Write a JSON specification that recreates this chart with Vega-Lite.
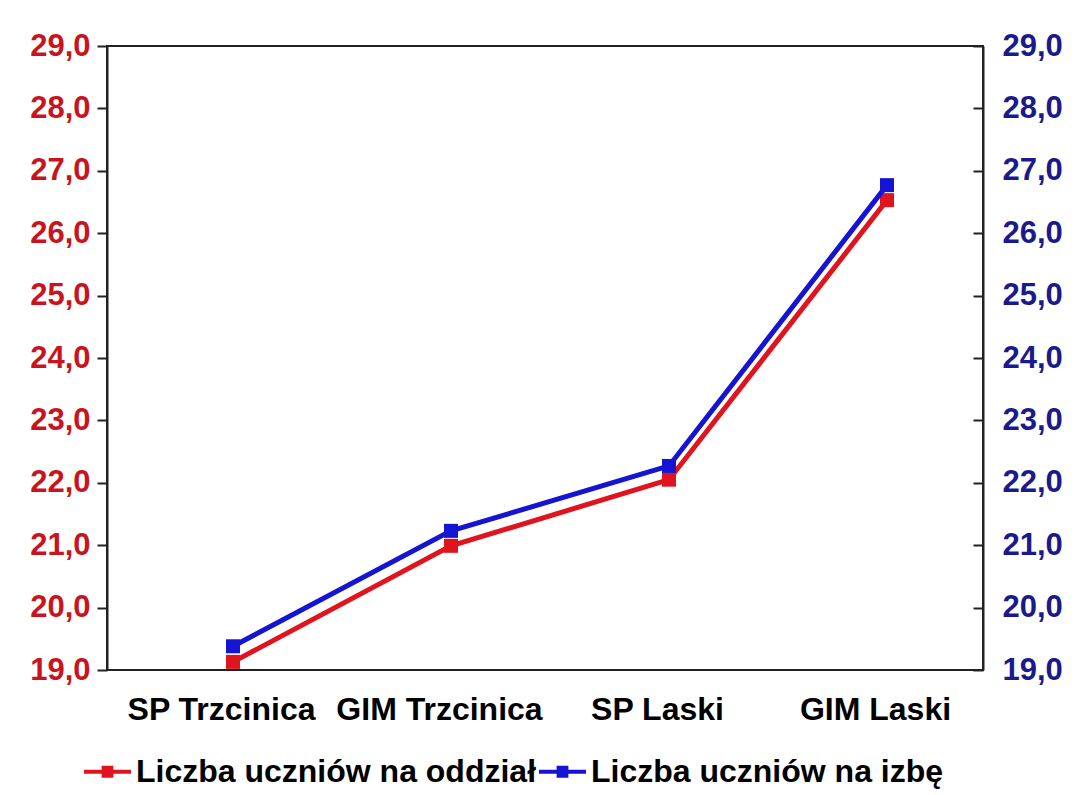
{
  "$schema": "https://vega.github.io/schema/vega-lite/v6.json",
  "autosize": "none",
  "padding": {"left": 107, "top": 46, "right": 92, "bottom": 125},
  "width": 876,
  "height": 624,
  "background": "white",
  "config": {
    "view": {"stroke": "#222", "strokeWidth": 2},
    "font": "Liberation Sans"
  },
  "data": {
    "values": [
      {"szkola": "SP Trzcinica", "oddzial": 19.13, "izbe": 19.38},
      {"szkola": "GIM Trzcinica", "oddzial": 20.99, "izbe": 21.23},
      {"szkola": "SP Laski", "oddzial": 22.05, "izbe": 22.27},
      {"szkola": "GIM Laski", "oddzial": 26.53, "izbe": 26.77}
    ]
  },
  "encoding": {
    "x": {
      "field": "szkola",
      "type": "nominal",
      "sort": null,
      "scale": {"type": "point", "range": [126, 780], "padding": 0},
      "axis": {
        "title": null,
        "labelAngle": 0,
        "ticks": false,
        "domain": false,
        "labelFont": "Liberation Sans",
        "labelFontWeight": "bold",
        "labelFontSize": 32,
        "labelColor": "black",
        "labelPadding": 24,
        "labelOffset": -12,
        "labelLimit": 1000
      }
    }
  },
  "layer": [
    {
      "mark": {"type": "line", "strokeWidth": 5, "point": {"shape": "square", "size": 196, "filled": true, "opacity": 1}},
      "encoding": {
        "y": {
          "field": "oddzial",
          "type": "quantitative",
          "scale": {"domain": [19, 29], "nice": false, "zero": false},
          "axis": {
            "orient": "left",
            "title": null,
            "grid": false,
            "values": [19, 20, 21, 22, 23, 24, 25, 26, 27, 28, 29],
            "labelExpr": "replace(format(datum.value, '.1f'), '.', ',')",
            "labelColor": "#c8141e",
            "labelFont": "Liberation Sans",
            "labelFontSize": 31,
            "labelFontWeight": "bold",
            "labelFlush": false,
            "labelOverlap": false,
            "labelPadding": 7,
            "tickSize": 10,
            "tickColor": "#222",
            "tickWidth": 2,
            "domainColor": "#222",
            "domainWidth": 2
          }
        },
        "color": {
          "datum": "Liczba uczniów na oddział",
          "type": "nominal",
          "scale": {
            "domain": ["Liczba uczniów na oddział", "Liczba uczniów na izbę"],
            "range": ["#e0141e", "#1414d2"]
          },
          "legend": {
            "orient": "none",
            "legendX": -25,
            "legendY": 700,
            "direction": "horizontal",
            "title": null,
            "padding": 0,
            "symbolType": "M-1,0H1M-0.25,-0.17H0.25M-0.25,-0.09H0.25M-0.25,0H0.25M-0.25,0.09H0.25M-0.25,0.17H0.25",
            "symbolSize": 2209,
            "symbolStrokeWidth": 4,
            "labelFont": "Liberation Sans",
            "labelFontSize": 32,
            "labelFontWeight": "bold",
            "labelColor": "black",
            "labelOffset": 3,
            "columnPadding": -8,
            "labelLimit": 1000
          }
        }
      }
    },
    {
      "mark": {"type": "line", "strokeWidth": 5, "point": {"shape": "square", "size": 196, "filled": true, "opacity": 1}},
      "encoding": {
        "y": {
          "field": "izbe",
          "type": "quantitative",
          "scale": {"domain": [19, 29], "nice": false, "zero": false},
          "axis": {
            "orient": "right",
            "title": null,
            "grid": false,
            "values": [19, 20, 21, 22, 23, 24, 25, 26, 27, 28, 29],
            "labelExpr": "replace(format(datum.value, '.1f'), '.', ',')",
            "labelColor": "#1a1a8c",
            "labelFont": "Liberation Sans",
            "labelFontSize": 31,
            "labelFontWeight": "bold",
            "labelFlush": false,
            "labelOverlap": false,
            "labelPadding": 29,
            "tickSize": -10,
            "tickColor": "#222",
            "tickWidth": 2,
            "domainColor": "#222",
            "domainWidth": 2
          }
        },
        "color": {
          "datum": "Liczba uczniów na izbę",
          "type": "nominal"
        }
      }
    }
  ],
  "resolve": {"scale": {"y": "independent"}}
}
